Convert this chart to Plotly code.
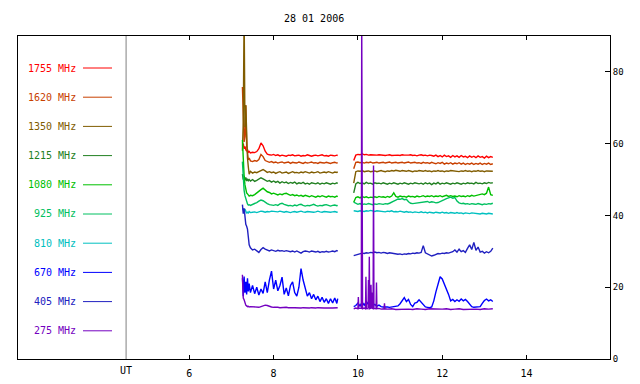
import plotly.graph_objects as go

# ---------------- data ----------------
TITLE = "28 01 2006"
LABELS = ["1755 MHz", "1620 MHz", "1350 MHz", "1215 MHz", "1080 MHz",
          "925 MHz", "810 MHz", "670 MHz", "405 MHz", "275 MHz"]
COLORS = ["#ff0000", "#c84000", "#805c00", "#228022", "#00c000",
          "#00c060", "#00c0c0", "#0000ff", "#2020c0", "#7400c0"]
X_TICKS = [6, 8, 10, 12, 14]
Y_TICKS = [0, 20, 40, 60, 80]
UT_MARK = 4.5

# time grid, first observing block (UT hours)
T_A = [7.26, 7.28, 7.30, 7.32, 7.34, 7.36, 7.38, 7.40, 7.42, 7.45,
       7.50, 7.55, 7.60, 7.65, 7.70, 7.75, 7.80, 7.85, 7.90, 7.95,
       8.00, 8.05, 8.10, 8.15, 8.20, 8.25, 8.30, 8.35, 8.40, 8.45,
       8.50, 8.55, 8.60, 8.65, 8.70, 8.75, 8.80, 8.85, 8.90, 8.95,
       9.00, 9.05, 9.10, 9.15, 9.20, 9.25, 9.30, 9.35, 9.40, 9.45,
       9.50, 9.52]
# time grid, second observing block
T_B = [9.90, 9.95, 10.00, 10.05, 10.10, 10.15, 10.20, 10.25, 10.30, 10.35,
       10.40, 10.45, 10.50, 10.55, 10.60, 10.65, 10.70, 10.75, 10.80, 10.85,
       10.90, 10.95, 11.00, 11.05, 11.10, 11.15, 11.20, 11.25, 11.30, 11.35,
       11.40, 11.45, 11.50, 11.55, 11.60, 11.65, 11.70, 11.75, 11.80, 11.85,
       11.90, 11.95, 12.00, 12.05, 12.10, 12.15, 12.20, 12.25, 12.30, 12.35,
       12.40, 12.45, 12.50, 12.55, 12.60, 12.65, 12.70, 12.75, 12.80, 12.85,
       12.90, 12.95, 13.00, 13.05, 13.10, 13.15, 13.20]

F1755_A = [59.5, 60.0, 58.6, 59.2, 58.3, 57.9, 58.4, 57.6, 57.8, 57.4,
           57.6, 57.5, 57.8, 58.6, 60.2, 59.4, 57.9, 57.1, 56.9, 56.8,
           57.0, 56.7, 56.9, 56.6, 56.8, 56.7, 56.5, 56.8, 56.7, 56.9,
           56.6, 56.7, 56.8, 56.5, 56.7, 56.6, 56.9, 56.7, 56.5, 56.7,
           56.8, 56.6, 56.7, 56.9, 56.6, 56.7, 56.5, 56.8, 56.7, 56.6,
           56.8, 56.7]
F1620_A = [75.8, 64.2, 60.5, 62.0, 70.7, 59.5, 56.8, 55.5, 56.0, 55.2,
           55.0, 55.3, 55.1, 55.6, 57.0, 56.4, 55.3, 55.0, 54.8, 55.0,
           54.7, 54.9, 54.6, 54.8, 54.9, 54.6, 54.7, 54.9, 54.5, 54.8,
           54.7, 54.6, 54.9, 54.7, 54.5, 54.8, 54.6, 54.7, 54.9, 54.6,
           54.7, 54.5, 54.8, 54.7, 54.6, 54.8, 54.7, 54.5, 54.7, 54.8,
           54.6, 54.7]
F1350_A = [58.0, 66.0, 97.0, 64.6, 70.7, 62.0, 56.0, 53.5, 51.5, 52.3,
           51.8, 52.1, 51.9, 52.2, 52.6, 52.8, 52.4, 52.0, 52.2, 51.9,
           52.1, 51.7, 52.0, 52.2, 51.8, 52.0, 52.1, 51.7, 52.0, 52.2,
           51.9, 52.0, 51.8, 52.1, 51.9, 52.2, 52.0, 51.8, 52.1, 51.9,
           52.0, 52.2, 51.8, 52.0, 52.1, 51.9, 52.2, 52.0, 51.8, 52.1,
           52.0, 52.2]
F1215_A = [51.5, 50.0, 51.0, 49.8, 50.6, 49.6, 50.2, 49.7, 50.0, 49.6,
           50.0, 49.5, 49.8, 50.2, 50.5, 50.2, 49.8, 49.5, 49.7, 49.3,
           49.6, 49.2, 49.5, 49.0, 49.4, 49.1, 49.3, 48.9, 49.2, 49.0,
           49.3, 48.8, 49.1, 48.9, 49.2, 48.8, 49.0, 48.7, 49.1, 48.9,
           48.8, 49.1, 48.7, 49.0, 48.8, 49.1, 48.9, 48.7, 49.0, 48.8,
           49.1, 48.9]
F1080_A = [61.0, 55.0, 51.0, 48.5, 47.0, 46.3, 46.0, 45.8, 45.4, 45.6,
           45.5, 45.8, 46.3, 46.9, 47.2, 47.6, 47.0, 46.6, 46.4, 46.0,
           46.2, 45.9, 45.7, 46.0, 45.8, 46.1, 46.2, 45.9, 45.6, 45.8,
           45.5, 45.7, 45.4, 45.6, 45.3, 45.6, 45.4, 45.2, 45.5, 45.3,
           45.1, 45.4, 45.2, 45.5, 45.3, 45.1, 45.4, 45.2, 45.3, 45.1,
           45.4, 45.2]
F925_A = [55.0, 50.0, 47.0, 45.5, 44.5, 43.6, 43.2, 42.9, 43.0, 42.8,
          43.0, 43.2, 43.6, 44.0, 44.3, 44.1, 43.6, 43.3, 43.0, 42.9,
          42.8, 43.0, 42.8, 43.2, 43.4, 43.1, 42.9, 42.7, 42.8, 42.6,
          42.9, 42.7, 43.0, 43.1, 42.8, 42.6, 42.8, 42.7, 42.9, 43.1,
          42.8, 42.6, 42.8, 42.7, 42.9, 43.0, 42.8, 42.6, 42.8, 42.9,
          42.7, 42.8]
F810_A = [42.0, 41.6, 41.2, 41.8, 41.0, 40.6, 40.9, 40.7, 41.1, 40.8,
          40.9, 41.0, 40.8, 41.0, 41.2, 41.1, 40.9, 41.1, 41.0, 41.2,
          41.1, 40.9, 41.0, 41.2, 41.0, 40.9, 41.1, 41.0, 40.8, 41.0,
          41.1, 40.9, 41.0, 41.2, 41.0, 40.9, 41.1, 41.0, 41.1, 40.9,
          41.0, 41.2, 41.0, 40.9, 41.1, 41.0, 41.1, 40.9, 41.0, 41.1,
          40.9, 41.0]
F670_A = [22.5, 17.5, 23.0, 18.5, 21.5, 18.0, 22.5, 18.8, 21.0, 18.5,
          20.5, 18.2, 20.0, 17.8, 19.5, 18.3, 21.5, 18.5, 22.0, 24.5,
          19.5, 22.0, 19.0, 20.5, 22.8, 18.0, 19.8, 17.6, 20.5, 21.5,
          18.5, 17.5, 20.0, 25.2, 22.0, 19.5, 17.5, 18.5, 16.8, 18.0,
          16.5, 17.5, 16.0, 17.2, 15.8, 16.8, 15.5, 16.8, 15.6, 17.0,
          15.5, 16.8]
F405_A = [43.0, 40.5, 42.0, 38.5, 37.5, 37.0, 36.2, 34.0, 31.8, 31.0,
          30.4, 30.6, 30.2, 29.7, 30.5, 31.0, 30.6, 30.3, 30.1, 30.4,
          30.2, 30.0, 30.3, 30.1, 30.2, 30.0, 30.2, 30.1, 29.9, 30.1,
          29.8, 30.1, 29.9, 29.5, 29.9, 30.1, 30.0, 29.8, 30.1, 29.9,
          29.8, 30.0, 29.7, 29.9, 29.8, 30.0, 29.8, 29.9, 30.1, 29.9,
          30.2, 30.0]
F275_A = [23.5, 17.0, 16.5, 15.5, 15.0, 14.8, 14.6, 14.7, 14.5, 14.6,
          14.5, 14.4, 14.5, 14.4, 14.6, 14.8, 15.0, 14.9, 14.6, 14.5,
          14.4, 14.5, 14.4, 14.3, 14.4, 14.3, 14.4, 14.3, 14.4, 14.3,
          14.3, 14.2, 14.3, 14.2, 14.3, 14.2, 14.3, 14.2, 14.3, 14.2,
          14.2, 14.3, 14.2, 14.3, 14.2, 14.2, 14.3, 14.2, 14.2, 14.3,
          14.2, 14.3]

F1755_B = [55.3, 56.8, 57.0, 56.9, 57.2, 56.9, 57.0, 56.8, 56.9, 56.8,
           56.9, 56.8, 56.9, 56.8, 56.9, 56.7, 56.8, 56.9, 56.7, 56.8,
           56.9, 56.8, 56.7, 56.9, 56.8, 56.7, 56.8, 56.9, 56.7, 56.8,
           56.6, 56.8, 56.9, 56.7, 56.8, 56.6, 56.8, 56.7, 56.5, 56.8,
           56.4, 56.7, 56.3, 56.8, 56.4, 56.6, 56.2, 56.7, 56.3, 56.6,
           56.2, 56.7, 56.3, 56.5, 56.1, 56.6, 56.2, 56.5, 56.1, 56.6,
           56.2, 56.4, 56.0, 56.5, 56.1, 56.4, 56.2]
F1620_B = [53.0, 54.8, 54.9, 54.7, 54.8, 54.6, 54.8, 54.7, 54.9, 54.6,
           54.7, 54.8, 54.6, 54.7, 54.8, 54.6, 54.7, 54.9, 54.6, 54.7,
           54.8, 54.6, 54.7, 54.8, 54.6, 54.7, 54.9, 54.6, 54.7, 54.8,
           54.6, 54.7, 54.5, 54.8, 54.6, 54.7, 54.5, 54.8, 54.6, 54.4,
           54.7, 54.5, 54.8, 54.3, 54.6, 54.4, 54.7, 54.3, 54.6, 54.4,
           54.7, 54.3, 54.6, 54.2, 54.5, 54.3, 54.6, 54.2, 54.5, 54.3,
           54.6, 54.2, 54.5, 54.3, 54.6, 54.2, 54.4]
F1350_B = [49.0, 52.2, 52.4, 52.3, 52.5, 52.2, 52.3, 52.4, 52.2, 52.3,
           52.4, 52.2, 52.3, 52.5, 52.3, 52.2, 52.4, 52.3, 52.5, 52.4,
           52.6, 52.4, 52.3, 52.5, 52.4, 52.3, 52.5, 52.4, 52.2, 52.4,
           52.3, 52.5, 52.4, 52.3, 52.5, 52.3, 52.4, 52.2, 52.4, 52.3,
           52.5, 52.3, 52.4, 52.2, 52.4, 52.3, 52.5, 52.4, 52.3, 52.4,
           52.2, 52.4, 52.3, 52.5, 52.3, 52.4, 52.2, 52.4, 52.3, 52.5,
           52.3, 52.4, 52.2, 52.4, 52.3, 52.4, 52.3]
F1215_B = [46.3, 48.8, 49.2, 48.9, 49.1, 48.8, 49.2, 48.9, 49.0, 48.7,
           49.1, 48.9, 49.0, 48.8, 49.1, 48.9, 48.7, 49.0, 48.8, 49.1,
           48.9, 48.7, 49.0, 48.8, 49.1, 48.9, 48.7, 49.0, 48.8, 49.1,
           48.9, 48.8, 49.0, 48.7, 49.1, 48.8, 49.0, 48.6, 49.0, 48.8,
           49.2, 48.7, 49.0, 48.8, 49.1, 48.9, 48.7, 49.0, 48.8, 49.1,
           48.9, 48.7, 49.0, 48.8, 49.1, 48.9, 49.0, 48.8, 49.2, 48.9,
           49.0, 48.8, 49.1, 48.9, 49.2, 49.0, 49.1]
F1080_B = [43.7, 45.0, 45.2, 44.9, 45.3, 45.0, 45.2, 44.9, 45.1, 45.0,
           45.2, 45.0, 45.3, 45.1, 45.2, 45.0, 45.3, 45.1, 45.4, 46.3,
           45.3, 45.1, 45.4, 45.2, 45.3, 45.1, 45.4, 45.2, 45.3, 45.1,
           45.4, 45.2, 45.3, 45.5, 45.2, 45.4, 45.3, 45.5, 45.2, 45.4,
           45.3, 45.5, 45.2, 45.4, 45.6, 45.3, 45.5, 45.3, 45.4, 45.2,
           45.5, 45.3, 45.4, 45.2, 45.5, 45.3, 45.6, 45.4, 45.5, 45.7,
           45.9, 46.0, 45.8, 46.2, 47.9, 45.8, 45.6]
F925_B = [43.7, 43.4, 43.1, 43.3, 43.0, 43.2, 43.1, 43.3, 43.2, 43.0,
          43.2, 43.1, 43.3, 43.2, 43.1, 43.3, 43.2, 43.4, 43.6, 44.0,
          44.3, 44.6, 44.5, 44.7, 44.4, 44.5, 43.8, 43.4, 43.3, 43.4,
          43.3, 43.5, 43.6, 43.8, 43.7, 43.9, 43.6, 43.8, 43.7, 43.5,
          43.6, 43.8, 44.1, 44.4, 44.7, 44.9, 45.1, 44.8, 45.0, 44.0,
          43.5, 43.3, 43.4, 43.2, 43.3, 43.1, 43.3, 43.2, 43.1, 43.3,
          43.2, 43.0, 43.2, 43.1, 43.3, 43.2, 43.4]
F810_B = [41.3, 41.2, 41.1, 41.3, 41.2, 41.1, 41.3, 41.2, 41.4, 41.2,
          41.1, 41.3, 41.2, 41.1, 41.2, 41.0, 41.2, 41.1, 41.3, 41.0,
          41.1, 41.0, 41.2, 41.0, 40.9, 41.1, 40.9, 41.0, 40.8, 41.0,
          40.9, 40.8, 41.0, 40.8, 40.9, 40.7, 40.9, 40.8, 40.7, 40.9,
          40.8, 40.7, 40.9, 40.7, 40.8, 40.6, 40.8, 40.7, 40.6, 40.8,
          40.6, 40.7, 40.5, 40.7, 40.6, 40.5, 40.7, 40.6, 40.5, 40.6,
          40.4, 40.6, 40.5, 40.4, 40.6, 40.5, 40.4]
F670_B = [14.6, 14.9, 15.6, 14.8, 15.8, 15.0, 16.0, 15.2, 15.6, 14.9,
          15.2, 14.7, 15.0, 14.6, 14.5, 14.6, 14.5, 14.4, 14.5, 14.6,
          14.5, 14.8, 15.4, 16.2, 17.1, 16.0, 16.6, 15.2, 14.6, 15.6,
          15.8, 16.5, 15.8, 15.0, 14.5, 14.4, 14.3, 14.5, 16.2, 18.7,
          20.5, 22.9, 22.3, 21.0, 19.5, 18.0, 16.2, 16.6, 16.0, 16.5,
          16.1, 16.7, 16.2, 16.6, 16.0, 15.2, 14.6, 14.4, 14.5, 14.4,
          14.6, 15.5, 16.3, 16.7, 16.2, 16.5, 16.0]
F405_B = [28.8, 29.0, 29.2, 29.3, 29.5, 29.4, 29.6, 29.5, 29.7, 29.6,
          29.8, 29.6, 29.7, 29.5, 29.7, 29.6, 29.4, 29.6, 29.5, 29.3,
          29.4, 29.2, 29.3, 29.1, 29.3, 29.2, 29.4, 29.3, 29.5, 29.4,
          29.6, 29.5, 29.7, 31.6, 29.6, 29.3, 29.0, 28.7, 28.9, 29.2,
          29.4, 29.3, 29.5, 29.4, 29.6, 29.5, 29.7, 29.9, 30.4, 29.8,
          30.6, 29.9, 30.2, 29.7, 30.8, 31.8, 30.5, 32.5, 30.3, 31.2,
          29.8, 30.0, 29.5, 29.9, 29.6, 30.0, 30.9]
# 275 MHz second block has its own (finer) sampling around the spikes
T275_B = [9.90, 9.95, 10.00, 10.01, 10.02, 10.06, 10.08, 10.09, 10.10, 10.11,
          10.15, 10.18, 10.19, 10.20, 10.24, 10.25, 10.26, 10.27, 10.28, 10.30,
          10.31, 10.32, 10.33, 10.34, 10.36, 10.37, 10.38, 10.43, 10.44, 10.45,
          10.50, 10.55, 10.62, 10.63, 10.64, 10.70, 10.80, 10.90, 11.00, 11.10,
          11.20, 11.30, 11.40, 11.50, 11.60, 11.70, 11.80, 11.90, 12.00, 12.10,
          12.20, 12.30, 12.40, 12.50, 12.60, 12.70, 12.80, 12.90, 13.00, 13.10,
          13.20]
F275_B = [14.0, 14.2, 14.0, 17.3, 14.1, 14.0, 14.1, 95.0, 19.5, 14.0,
          14.2, 14.0, 22.9, 14.1, 14.0, 22.0, 14.2, 28.5, 14.0, 14.1,
          20.7, 14.0, 18.5, 14.1, 14.0, 53.9, 14.1, 14.0, 21.3, 14.0,
          14.1, 13.9, 14.0, 15.5, 14.0, 13.9, 14.0, 13.8, 13.9, 14.0,
          13.9, 13.8, 14.0, 13.9, 13.8, 14.0, 13.9, 13.8, 13.9, 14.0,
          13.8, 13.9, 14.0, 13.8, 13.9, 14.0, 13.9, 13.8, 14.0, 13.9,
          14.0]

SERIES = [
    (T_A, F1755_A, T_B, F1755_B),
    (T_A, F1620_A, T_B, F1620_B),
    (T_A, F1350_A, T_B, F1350_B),
    (T_A, F1215_A, T_B, F1215_B),
    (T_A, F1080_A, T_B, F1080_B),
    (T_A, F925_A, T_B, F925_B),
    (T_A, F810_A, T_B, F810_B),
    (T_A, F670_A, T_B, F670_B),
    (T_A, F405_A, T_B, F405_B),
    (T_A, F275_A, T275_B, F275_B),
]

# ---------------- layout geometry ----------------
W, H = 640, 384
ML, MR, MT, MB = 18, 30, 36, 25
PW, PH = W - ML - MR, H - MT - MB
FONT = "DejaVu Sans Mono"


def paper_x(px):
    return (px - ML) / PW


def paper_y(py):
    return (H - MB - py) / PH


fig = go.Figure()
for (ta, va, tb, vb), col in zip(SERIES, COLORS):
    for t, v in ((ta, va), (tb, vb)):
        fig.add_trace(go.Scatter(x=t, y=v, mode="lines",
                                 line=dict(color=col, width=1.4),
                                 showlegend=False, hoverinfo="skip"))

annotations = []
shapes = []
# hand-drawn legend at the left
for i, (lab, col) in enumerate(zip(LABELS, COLORS)):
    py = 68 + 29.2 * i
    annotations.append(dict(text=lab, x=paper_x(78), y=paper_y(py),
                            xref="paper", yref="paper", xanchor="right",
                            yanchor="middle", showarrow=False,
                            font=dict(family=FONT, size=10, color=col)))
    shapes.append(dict(type="line", xref="paper", yref="paper",
                       x0=paper_x(83), x1=paper_x(112),
                       y0=paper_y(py), y1=paper_y(py),
                       line=dict(color=col, width=1)))

# UT separator line
shapes.append(dict(type="line", xref="x", yref="paper", x0=UT_MARK, x1=UT_MARK,
                   y0=0, y1=1, line=dict(color="#808080", width=1)))
annotations.append(dict(text="UT", x=UT_MARK, y=paper_y(370), xref="x",
                        yref="paper", xanchor="center", yanchor="middle",
                        showarrow=False, font=dict(family=FONT, size=10, color="black")))
annotations.append(dict(text=TITLE, x=0.5, y=paper_y(18), xref="paper",
                        yref="paper", xanchor="center", yanchor="middle",
                        showarrow=False, font=dict(family=FONT, size=10, color="black")))

fig.update_layout(
    width=W, height=H,
    margin=dict(l=ML, r=MR, t=MT, b=MB, pad=0),
    paper_bgcolor="white", plot_bgcolor="white",
    showlegend=False,
    annotations=annotations, shapes=shapes,
    font=dict(family=FONT, size=10, color="black"),
    xaxis=dict(range=[1.936, 15.98], tickvals=X_TICKS, ticks="inside",
               ticklen=4, tickcolor="black", mirror="ticks", showline=True,
               linecolor="black", linewidth=1, showgrid=False, zeroline=False,
               ticklabelstandoff=5, automargin=False),
    yaxis=dict(range=[0, 90], tickvals=Y_TICKS, ticks="inside", side="right",
               ticklen=5, tickcolor="black", mirror=True, showline=True,
               linecolor="black", linewidth=1, showgrid=False, zeroline=False,
               tickfont=dict(size=9), automargin=False),
)

fig.write_html("out.html",
               config={"displayModeBar": False},
               post_script="document.body.style.margin='0px';"
                           "document.body.style.padding='0px';")
